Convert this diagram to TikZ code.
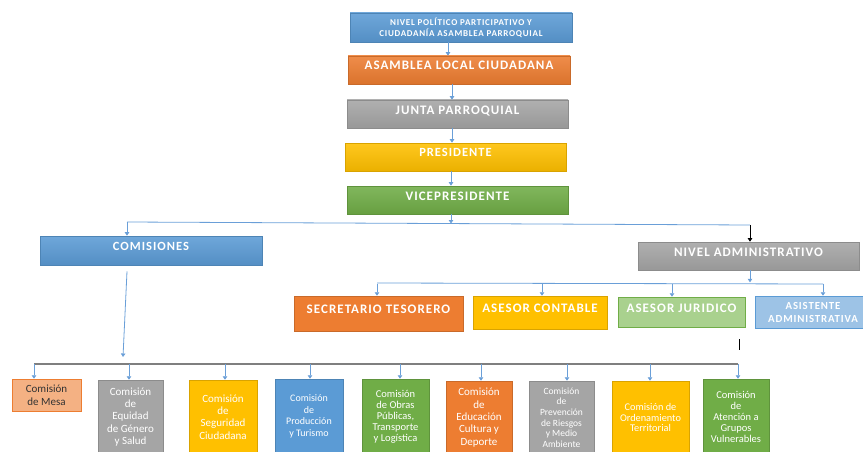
\documentclass[tikz,border=0pt]{standalone}
\usepackage{fontspec}
\setmainfont{Carlito}
\newfontfamily\spaced[LetterSpace=8]{Carlito}
\usetikzlibrary{arrows.meta}
\definecolor{azul}{HTML}{5B9BD5}
\definecolor{naranja}{HTML}{ED7D31}
\definecolor{gris}{HTML}{A5A5A5}
\definecolor{amarillo}{HTML}{FFC000}
\definecolor{verde}{HTML}{70AD47}
\definecolor{verdeclaro}{HTML}{A9D18E}
\definecolor{azulclaro}{HTML}{9DC3E6}
\definecolor{salmon}{HTML}{F4B183}
\definecolor{enlace}{HTML}{6A9FD8}
\definecolor{barra}{HTML}{7F7F7F}
\tikzset{
  caja/.style={rectangle, draw=#1!85!black, line width=0.6pt, inner sep=1pt,
    top color=#1!88!white, bottom color=#1!92!black, text=white, align=center},
  titulo/.style={font=\spaced\bfseries\fontsize{12.5}{14}\selectfont,
    text height=8pt, text depth=8pt},
  comision/.style={rectangle, draw=#1!85!black, fill=#1, line width=0.5pt,
    inner sep=1pt, text=white, align=center, font=\fontsize{10}{11.5}\selectfont},
  enlacelinea/.style={draw=enlace, line width=0.8pt},
  flecha/.style={enlacelinea, -{Triangle[width=4.5pt,length=3.5pt]}},
}
\begin{document}
\begin{tikzpicture}[x=1pt,y=-1pt]
  \useasboundingbox (0,0) rectangle (863,452);

  \node[caja=azul, minimum width=222pt, minimum height=29pt,
    font=\spaced\bfseries\fontsize{9}{11}\selectfont] (nivel) at (461,27.5)
    {NIVEL POLÍTICO PARTICIPATIVO Y\\CIUDADANÍA ASAMBLEA PARROQUIAL};
  \node[caja=naranja, titulo, minimum width=222pt, minimum height=28pt,
    font=\spaced\bfseries\fontsize{13}{14}\selectfont] (asamblea) at (459,70) {ASAMBLEA LOCAL CIUDADANA};
  \node[caja=gris, titulo, minimum width=221pt, minimum height=28pt,
    font=\spaced\bfseries\fontsize{13}{14}\selectfont] (junta) at (457.5,114) {JUNTA PARROQUIAL};
  \node[caja=amarillo, titulo, minimum width=221pt, minimum height=28pt] (presidente) at (455.5,157) {PRESIDENTE};
  \node[caja=verde, titulo, minimum width=221pt, minimum height=28pt,
    font=\spaced\bfseries\fontsize{13}{14}\selectfont] (vice) at (457.5,200) {VICEPRESIDENTE};

  \draw[flecha] ([xshift=-13pt]nivel.south) -- ([xshift=-11pt]asamblea.north);
  \draw[flecha] ([xshift=-7pt]asamblea.south) -- ([xshift=-5.5pt]junta.north);
  \draw[flecha] ([xshift=-5.5pt]junta.south) -- ([xshift=-3.5pt]presidente.north);
  \draw[flecha] ([xshift=-4.5pt]presidente.south) -- ([xshift=-6.5pt]vice.north);

  \node[caja=azul, titulo, minimum width=222pt, minimum height=29pt] (comisiones) at (151,250.5) {COMISIONES};
  \node[caja=gris, titulo, minimum width=221pt, minimum height=28pt,
    font=\spaced\bfseries\fontsize{13}{14}\selectfont] (admin) at (748.5,256) {NIVEL ADMINISTRATIVO};

  \coordinate (vs) at (451,223.5);
  \coordinate (izq) at (127,222);
  \coordinate (der) at (750,225);
  \draw[flecha] ([xshift=-6.5pt]vice.south) -- (vs);
  \draw[enlacelinea] (izq) -- (der);
  \draw[flecha] (izq) -- (izq |- comisiones.north);
  \draw[flecha, draw=black] (der) -- (der |- admin.north);

  \node[comision=naranja, titulo, minimum width=169pt, minimum height=35pt,
    font=\spaced\bfseries\fontsize{13}{14}\selectfont] (secretario) at (378.5,313.5) {SECRETARIO TESORERO};
  \node[comision=amarillo, titulo, minimum width=134pt, minimum height=33pt,
    font=\spaced\bfseries\fontsize{13}{14}\selectfont] (contable) at (540,312.5) {ASESOR CONTABLE};
  \node[comision=verdeclaro, draw=verde, titulo, minimum width=127pt, minimum height=30pt,
    font=\spaced\bfseries\fontsize{13}{14}\selectfont] (juridico) at (681.5,312) {ASESOR JURIDICO};
  \node[comision=azulclaro, draw=azul, minimum width=116pt, minimum height=32pt,
    font=\spaced\bfseries\fontsize{10.8}{13}\selectfont] (asistente) at (813,312) {ASISTENTE\\ADMINISTRATIVA};

  \coordinate (a1) at (377,283);
  \coordinate (a4) at (823,284);
  \draw[flecha] ([xshift=1.5pt]admin.south) -- ++(0,12);
  \draw[enlacelinea] (a1) -- (a4);
  \foreach \caja/\x in {secretario/377, contable/542, juridico/672, asistente/823}{
    \coordinate (d) at (\x,283.5);
    \draw[flecha] (d) -- (d |- \caja.north);
  }
  \draw[black, line width=0.8pt] (739,339) -- (739,350);

  \node[comision=salmon, draw=naranja, text=black!80, minimum width=69pt, minimum height=32pt,
    font=\fontsize{11}{13}\selectfont] (c1) at (46.5,395) {Comisión\\de Mesa};
  \node[comision=gris, minimum width=65pt, minimum height=74pt,
    font=\fontsize{11}{12.3}\selectfont] (c2) at (130.5,417) {Comisión\\de\\Equidad\\de Género\\y Salud};
  \node[comision=amarillo, minimum width=68pt, minimum height=74pt,
    font=\fontsize{11}{12.3}\selectfont] (c3) at (223,417) {Comisión\\de\\Seguridad\\Ciudadana};
  \node[comision=azul, minimum width=68pt, minimum height=75pt] (c4) at (309,416.5) {Comisión\\de\\Producción\\y Turismo};
  \node[comision=verde, minimum width=67pt, minimum height=75pt,
    font=\fontsize{10.5}{11}\selectfont] (c5) at (395.5,416.5) {Comisión\\de Obras\\Públicas,\\Transporte\\y Logística};
  \node[comision=naranja, minimum width=66pt, minimum height=73pt,
    font=\fontsize{11}{12.3}\selectfont] (c6) at (479,417.5) {Comisión\\de\\Educación\\Cultura y\\Deporte};
  \node[comision=gris, minimum width=65pt, minimum height=73pt,
    font=\fontsize{9.5}{10.6}\selectfont] (c7) at (561.5,417.5) {Comisión\\de\\Prevención\\de Riesgos\\y Medio\\Ambiente};
  \node[comision=amarillo, minimum width=77pt, minimum height=73pt,
    font=\fontsize{10.3}{10.8}\selectfont] (c8) at (650.5,417.5) {Comisión de\\Ordenamiento\\Territorial};
  \node[comision=verde, minimum width=66pt, minimum height=75pt,
    font=\fontsize{10.5}{11}\selectfont] (c9) at (736,416.5) {Comisión\\de\\Atención a\\Grupos\\Vulnerables};

  \coordinate (cb) at (123,357);
  \coordinate (b0) at (34,364);
  \coordinate (b9) at (738,364);
  \draw[flecha] ([xshift=-24pt,yshift=-6pt]comisiones.south) -- (cb);
  \draw[draw=barra, line width=1.2pt] (b0) -- (b9);
  \foreach \caja/\x in {c1/34, c2/129, c3/225, c4/310, c5/400, c6/481, c7/567, c8/650, c9/738}{
    \coordinate (d) at (\x,364);
    \draw[flecha] (d) -- (d |- \caja.north);
  }
\end{tikzpicture}
\end{document}
